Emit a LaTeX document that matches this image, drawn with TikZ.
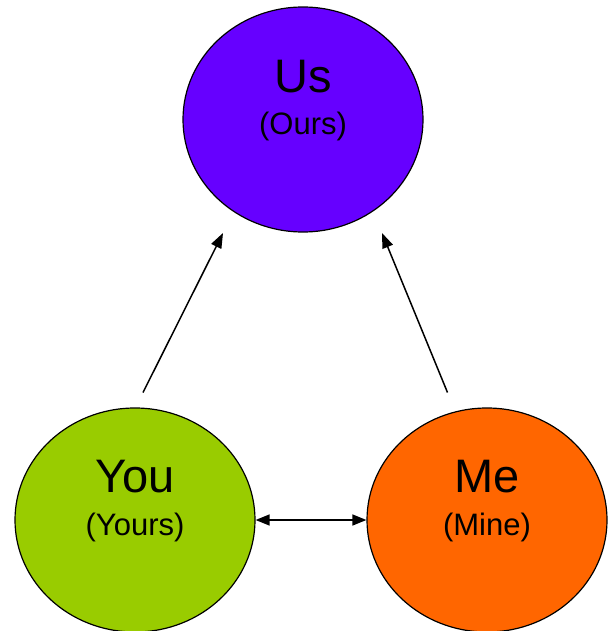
\documentclass[tikz,border=0pt]{standalone}
\usepackage{fontspec}
\setmainfont{Liberation Sans}
\usetikzlibrary{shapes.geometric,arrows.meta}
\definecolor{uspurple}{HTML}{6600FF}
\definecolor{yougreen}{HTML}{99CC00}
\definecolor{meorange}{HTML}{FF6600}
\tikzset{
  blob/.style={ellipse, draw=black, line width=1.2pt, inner sep=0pt, minimum width=240pt},
  bigtxt/.style={inner sep=0pt, font=\fontsize{47}{50}\selectfont},
  smalltxt/.style={inner sep=0pt, font=\fontsize{31}{34}\selectfont},
  conn/.style={line width=1.5pt, -{Triangle[length=15pt,width=11pt]}},
  dconn/.style={line width=1.5pt, {Triangle[length=14pt,width=11pt]}-{Triangle[length=14pt,width=11pt]}}
}
\begin{document}
\begin{tikzpicture}[x=1pt,y=-1pt]
\useasboundingbox (0,0) rectangle (608,631);
\node[blob, fill=uspurple, minimum height=225pt] (us) at (303,119.5) {};
\node[blob, fill=yougreen, minimum height=224pt] (you) at (135,520) {};
\node[blob, fill=meorange, minimum height=224pt] (me) at (487,520) {};
\node[bigtxt] (ust) at (303,77) {Us};
\node[smalltxt] (ours) at (303,126.5) {(Ours)};
\node[bigtxt] (yout) at (135,477) {You};
\node[smalltxt] (yours) at (135,527) {(Yours)};
\node[bigtxt] (met) at (487,477) {Me};
\node[smalltxt] (mine) at (487,527) {(Mine)};
\coordinate (a1) at (143,392.5);
\coordinate (a1e) at (223,233);
\coordinate (a2) at (447.5,392.5);
\coordinate (a2e) at (382,233);
\draw[conn] (a1) -- (a1e);
\draw[conn] (a2) -- (a2e);
\draw[dconn] (you.east) -- (me.west);
\end{tikzpicture}
\end{document}
